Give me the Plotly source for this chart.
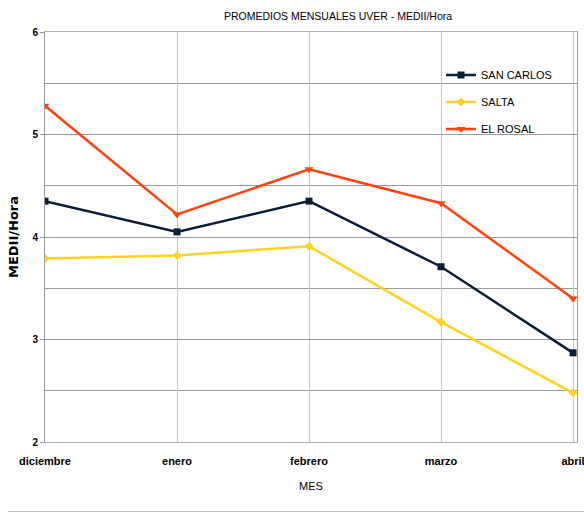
import plotly.graph_objects as go

months = ["diciembre", "enero", "febrero", "marzo", "abril"]
san_carlos = [4.35, 4.05, 4.35, 3.71, 2.87]
salta = [3.79, 3.82, 3.91, 3.17, 2.48]
el_rosal = [5.28, 4.22, 4.66, 4.33, 3.40]

FONT = "Liberation Sans, Arial, sans-serif"
W, H = 584, 513
L, T, R, B = 45, 32, 7, 513 - 442
PW, PH = W - L - R, H - T - B

fig = go.Figure()
series = [
    ("SAN CARLOS", san_carlos, "#0b1f3a", "square", 7, "legend"),
    ("SALTA", salta, "#ffd320", "diamond", 7, "legend2"),
    ("EL ROSAL", el_rosal, "#ff420e", "triangle-down", 8, "legend3"),
]
for name, vals, col, sym, ms, lg in series:
    fig.add_trace(go.Scatter(
        x=list(range(len(months))), y=vals, name=name, mode="lines+markers",
        line=dict(color=col, width=2.5),
        marker=dict(symbol=sym, size=ms, color=col),
        legend=lg,
    ))

def leg(ypx):
    return dict(x=(441 - L) / PW, y=1 - (ypx - T) / PH, xanchor="left", yanchor="middle",
                bgcolor="rgba(0,0,0,0)", font=dict(family=FONT, size=11, color="#000"),
                itemwidth=30, tracegroupgap=0)

fig.update_layout(
    width=W, height=H,
    margin=dict(l=L, r=R, t=T, b=B),
    paper_bgcolor="white", plot_bgcolor="white",
    title=dict(text="PROMEDIOS MENSUALES UVER - MEDII/Hora", x=338 / W, xanchor="center",
               y=1 - 16 / H, yanchor="middle",
               font=dict(family=FONT, size=10.5, color="#000")),
    legend=leg(75), legend2=leg(102), legend3=leg(129),
    xaxis=dict(
        tickmode="array", tickvals=list(range(len(months))), ticktext=months,
        range=[0, 4.03], showgrid=True, gridcolor="#c8c8c8", gridwidth=1,
        showline=True, linecolor="#b0b0b0", mirror=True, zeroline=False,
        ticks="", automargin=False, ticklabeloverflow="allow", ticklabelstandoff=9,
        tickfont=dict(family=FONT, size=11, color="#000", weight="bold"),
        title=dict(text="MES", font=dict(family=FONT, size=11, color="#000"), standoff=16),
    ),
    yaxis=dict(
        range=[2, 6], dtick=1, showgrid=True, gridcolor="#9a9a9a", gridwidth=1,
        minor=dict(dtick=0.5, showgrid=True, gridcolor="#9a9a9a", gridwidth=1),
        showline=True, linecolor="#9a9a9a", mirror=True, zeroline=False,
        ticks="outside", ticklen=4, tickcolor="#9a9a9a", automargin=False,
        tickfont=dict(family=FONT, size=10, color="#000", weight="bold"),
        title=dict(text="MEDII/Hora", font=dict(family="DejaVu Sans, sans-serif", size=13, color="#000", weight="bold"), standoff=10),
    ),
    showlegend=True,
)
fig.add_shape(type="line", xref="paper", yref="paper",
              x0=-(L - 8) / PW, x1=1 + R / PW, y0=-(511.5 - 442) / PH, y1=-(511.5 - 442) / PH,
              line=dict(color="#c0bdb5", width=1))

fig.write_html("out.html", config={"displayModeBar": False},
               post_script="document.body.style.margin='0';document.body.style.overflow='hidden';")
